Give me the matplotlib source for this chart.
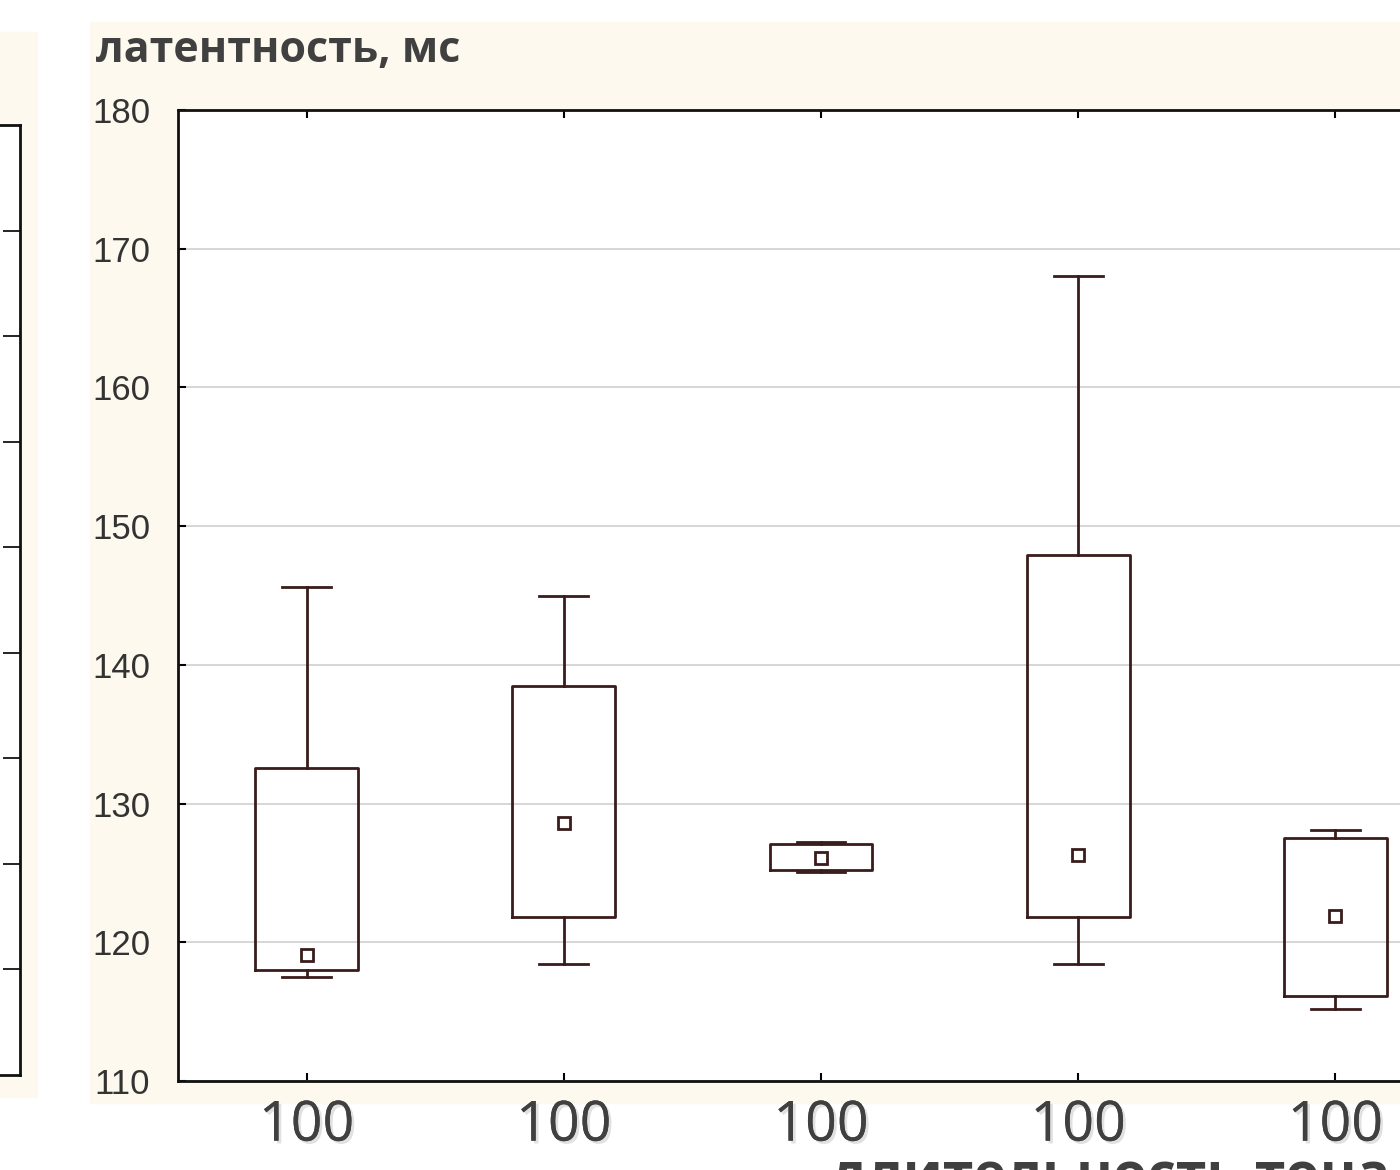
import matplotlib
matplotlib.use('Agg')
import matplotlib.pyplot as plt
import matplotlib.patheffects as pe
from matplotlib.patches import Rectangle

# values (Statistica-style: median, quartiles, min-max)
groups = ['100', '100', '100', '100', '100']
medians = [119.1, 128.6, 126.1, 126.3, 121.9]
q1 = [118.0, 121.8, 125.2, 121.8, 116.1]
q3 = [132.6, 138.5, 127.1, 147.9, 127.5]
mins = [117.5, 118.4, 125.1, 118.4, 115.2]
maxs = [145.6, 145.0, 127.2, 168.0, 128.1]
y_ticks = [110, 120, 130, 140, 150, 160, 170, 180]

W, H = 1400, 1170
cream = '#fdf9ee'
box_col = '#3a1c1c'
text_col = '#404040'

fig = plt.figure(figsize=(W / 100, H / 100), dpi=100)
fig.patch.set_facecolor('white')

def fx(px):
    return px / W

def fy(py):
    return 1 - py / H

# cream backgrounds of the two slide panels
fig.patches.append(Rectangle((fx(0), fy(1097)), fx(37), (1097 - 32) / H,
                             transform=fig.transFigure, color=cream, zorder=-10))
fig.patches.append(Rectangle((fx(90), fy(1103)), fx(1310), (1103 - 22) / H,
                             transform=fig.transFigure, color=cream, zorder=-10))

# left, cut-off neighbour panel
axl = fig.add_axes([fx(-300), fy(1075), fx(320), (1075 - 125) / H])
axl.set_facecolor('white')
axl.set_ylim(0, 9)
axl.set_xlim(0, 1)
axl.set_yticks(range(1, 9))
axl.yaxis.tick_right()
axl.tick_params(axis='y', direction='in', length=12, width=1.2, labelright=False)
axl.set_xticks([])
for s in axl.spines.values():
    s.set_linewidth(2)
    s.set_color('#111111')

# main panel
ax = fig.add_axes([fx(178), fy(1081), fx(1464 - 178), (1081 - 110) / H])
ax.set_facecolor('white')

stats = []
for i in range(len(groups)):
    stats.append({'med': medians[i], 'q1': q1[i], 'q3': q3[i],
                  'whislo': mins[i], 'whishi': maxs[i], 'fliers': []})
pos = list(range(len(groups)))
ax.bxp(stats, positions=pos, widths=0.4, showfliers=False, manage_ticks=False,
       boxprops=dict(color=box_col, linewidth=2),
       whiskerprops=dict(color=box_col, linewidth=2),
       capprops=dict(color=box_col, linewidth=2),
       medianprops=dict(linewidth=0), capwidths=0.19)
ax.plot(pos, medians, linestyle='none', marker='s', markersize=9,
        markerfacecolor='white', markeredgecolor=box_col, markeredgewidth=2, zorder=5)

ax.set_xlim(-0.5, 4.5)
ax.set_ylim(110, 180)
ax.set_yticks(y_ticks)
ax.set_yticklabels([str(v) for v in y_ticks], fontsize=25,
                   family=['Liberation Sans', 'DejaVu Sans'], color='#333333')
ax.set_xticks(pos)
ax.set_xticklabels(groups, fontsize=40, family=['Open Sans', 'DejaVu Sans'], color=text_col)
for lab in ax.get_xticklabels():
    lab.set_path_effects([pe.withSimplePatchShadow(offset=(2, -2), shadow_rgbFace='#aaaaaa', alpha=0.35),
                          pe.Normal()])
ax.tick_params(axis='both', direction='in', length=6, width=1.5, top=True, right=False)
ax.tick_params(axis='y', pad=20)
ax.tick_params(axis='x', pad=12)
ax.grid(axis='y', color='#d0d0d0', linewidth=1.2)
ax.set_axisbelow(True)
for s in ax.spines.values():
    s.set_linewidth(2)
    s.set_color('#111111')

fig.text(fx(96), fy(51), 'латентность, мс', fontsize=31, fontweight='bold',
         family=['Open Sans', 'DejaVu Sans'], color=text_col, va='center', ha='left')
fig.text(fx(1110), fy(1150), 'длительность тона', fontsize=40, fontweight='bold',
         family=['Open Sans', 'DejaVu Sans'], color=text_col, va='top', ha='center')

fig.savefig('out.png', dpi=100)
